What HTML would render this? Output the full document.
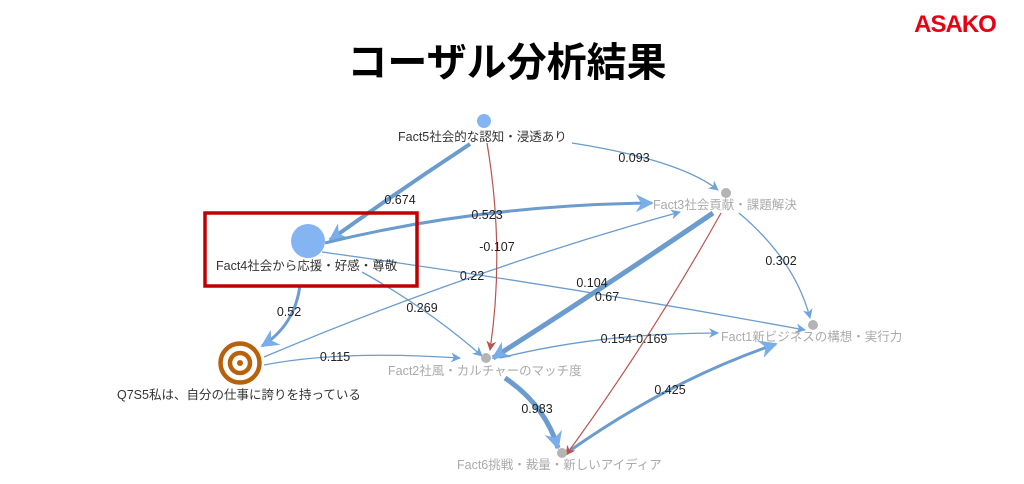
<!DOCTYPE html>
<html><head><meta charset="utf-8"><style>
body{margin:0;background:#fff;}
svg{display:block;font-family:"Liberation Sans","Noto Sans CJK JP",sans-serif;}
</style></head><body>
<svg width="1024" height="484" viewBox="0 0 1024 484" xmlns="http://www.w3.org/2000/svg">
<defs>
<marker id="ab" viewBox="0 0 10 10" refX="9" refY="5" markerWidth="14" markerHeight="10" markerUnits="userSpaceOnUse" orient="auto"><path d="M0,0 L10,5 L0,10 L3,5z" fill="#6fa3dd"/></marker>
<marker id="abL" viewBox="0 0 10 10" refX="9" refY="5" markerWidth="24" markerHeight="18" markerUnits="userSpaceOnUse" orient="auto"><path d="M0,0 L10,5 L0,10 L3,5z" fill="#7aaeea"/></marker>
<marker id="ar" viewBox="0 0 10 10" refX="9" refY="5" markerWidth="12" markerHeight="10" markerUnits="userSpaceOnUse" orient="auto"><path d="M0,0 L10,5 L0,10 L3,5z" fill="#b85450"/></marker>
</defs>
<rect width="1024" height="484" fill="#fff"/>
<text x="507" y="76" font-size="40" font-weight="bold" text-anchor="middle" fill="#000">コーザル分析結果</text>
<text x="955" y="32" font-size="24" font-weight="bold" text-anchor="middle" fill="#e60012" letter-spacing="-1">ASAKO</text>

<g fill="none" stroke="#6b9ccd">
<path d="M470,144 Q400,190 330,240" stroke-width="4" marker-end="url(#abL)"/>
<path d="M325,243 Q480,205 652,203" stroke-width="3" marker-end="url(#abL)"/>
<path d="M572,143 Q680,160 718,190" stroke-width="1.3" marker-end="url(#ab)"/>
<path d="M264,357 Q470,270 680,212" stroke-width="1.3" marker-end="url(#ab)"/>
<path d="M322,252 Q560,285 805,330" stroke-width="1.3" marker-end="url(#ab)"/>
<path d="M362,272 Q430,310 482,356" stroke-width="1.3" marker-end="url(#ab)"/>
<path d="M300,285 Q295,325 262,346" stroke-width="3" marker-end="url(#abL)"/>
<path d="M264,365 Q340,350 460,358" stroke-width="1.3" marker-end="url(#ab)"/>
<path d="M713,213 Q600,290 493,358" stroke-width="5" marker-end="url(#abL)"/>
<path d="M739,213 Q795,260 810,318" stroke-width="1.3" marker-end="url(#ab)"/>
<path d="M500,358 Q600,333 718,333" stroke-width="1.3" marker-end="url(#ab)"/>
<path d="M505,378 Q545,405 558,448" stroke-width="5" marker-end="url(#abL)"/>
<path d="M568,452 Q670,380 776,344" stroke-width="3" marker-end="url(#abL)"/>
</g>
<g fill="none" stroke="#b85450" stroke-width="1.2">
<path d="M487,143 Q505,250 490,350" marker-end="url(#ar)"/>
<path d="M721,213 Q650,340 566,455" marker-end="url(#ar)"/>
</g>

<rect x="205" y="213" width="212" height="73" fill="none" stroke="#c00000" stroke-width="3.5"/>

<circle cx="484" cy="121" r="7" fill="#84b4f2"/>
<circle cx="308" cy="241" r="17" fill="#84b4f2"/>
<circle cx="726" cy="193" r="5" fill="#b4b4b4"/>
<circle cx="813" cy="325" r="5" fill="#b4b4b4"/>
<circle cx="486" cy="358" r="5" fill="#b4b4b4"/>
<circle cx="562" cy="453" r="5" fill="#b4b4b4"/>
<g fill="none" stroke="#b8600a" stroke-width="4.5">
<circle cx="240" cy="363" r="19.5"/>
<circle cx="240" cy="363" r="10"/>
</g>
<circle cx="240" cy="363" r="3" fill="#b8600a"/>

<g font-size="12.5" fill="#333">
<text x="398" y="141">Fact5社会的な認知・浸透あり</text>
<text x="216" y="270">Fact4社会から応援・好感・尊敬</text>
<text x="117" y="399">Q7S5私は、自分の仕事に誇りを持っている</text>
</g>
<g font-size="12.5" fill="#aaa">
<text x="653" y="209">Fact3社会貢献・課題解決</text>
<text x="721" y="341">Fact1新ビジネスの構想・実行力</text>
<text x="388" y="375">Fact2社風・カルチャーのマッチ度</text>
<text x="457" y="469">Fact6挑戦・裁量・新しいアイディア</text>
</g>
<g font-size="12.5" fill="#222" text-anchor="middle">
<text x="400" y="204">0.674</text>
<text x="487" y="219">0.523</text>
<text x="634" y="162">0.093</text>
<text x="497" y="251">-0.107</text>
<text x="472" y="280">0.22</text>
<text x="592" y="287">0.104</text>
<text x="607" y="301">0.67</text>
<text x="781" y="265">0.302</text>
<text x="289" y="316">0.52</text>
<text x="422" y="312">0.269</text>
<text x="335" y="361">0.115</text>
<text x="634" y="343">0.154-0.169</text>
<text x="537" y="413">0.983</text>
<text x="670" y="394">0.425</text>
</g>
</svg>
</body></html>
